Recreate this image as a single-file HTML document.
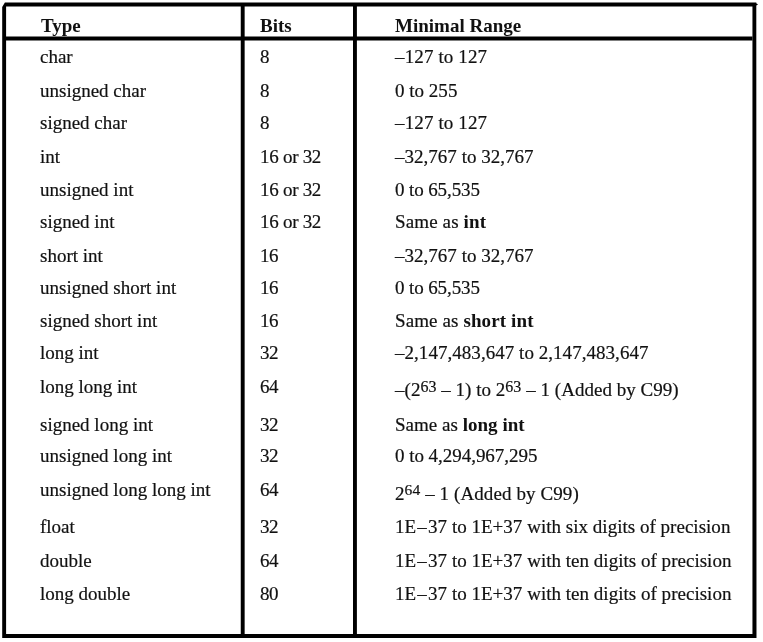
<!DOCTYPE html>
<html><head><meta charset="utf-8"><style>
html,body{margin:0;padding:0;background:#fff;}
body{width:763px;height:642px;position:relative;overflow:hidden;}
.t{position:absolute;will-change:transform;white-space:nowrap;font-family:"Liberation Serif","Times New Roman",serif;font-size:19px;line-height:22px;color:#111;-webkit-text-stroke:0.2px #111;}
.h{font-weight:bold;-webkit-text-stroke:0;}
b{font-weight:bold;-webkit-text-stroke:0;}
i.d{font-style:normal;margin:0 1.2px;}
sup{vertical-align:0;position:relative;line-height:0;}
.s1{font-size:16px;top:-4px;}
.s2{font-size:15.5px;top:-5px;}
svg{position:absolute;left:0;top:0;}
</style></head><body>
<svg width="763" height="642" viewBox="0 0 763 642"><path fill="#000" fill-rule="evenodd" d="M4.9 2.5 L756.3 2.5 L756.5 638 L2.2 638 L2.2 6.9 Z M6.1 6.4 L752.45 6.4 L752.45 634 L6.1 634 Z M756.3 3.3 L758 4.5 L756.3 5.6 Z"/><g stroke="#000" stroke-width="3.9" fill="none">
<line x1="6" y1="38.55" x2="752.5" y2="38.55" />
<line x1="242.7" y1="6" x2="242.7" y2="634.5" />
<line x1="354.95" y1="6" x2="354.95" y2="634.5" />
</g></svg>
<div class="t h" style="left:40.80px;top:15px">Type</div>
<div class="t h" style="left:259.90px;top:15px">Bits</div>
<div class="t h" style="left:395.40px;top:15px">Minimal Range</div>
<div class="t" style="left:40.40px;top:46px">char</div>
<div class="t" style="left:260.30px;top:46px">8</div>
<div class="t" style="left:395.40px;top:46px;letter-spacing:0.130px">–127 to 127</div>
<div class="t" style="left:40.40px;top:80px">unsigned char</div>
<div class="t" style="left:260.30px;top:80px">8</div>
<div class="t" style="left:395.40px;top:80px;letter-spacing:0.014px">0 to 255</div>
<div class="t" style="left:40.40px;top:112px">signed char</div>
<div class="t" style="left:260.30px;top:112px">8</div>
<div class="t" style="left:395.40px;top:112px;letter-spacing:0.130px">–127 to 127</div>
<div class="t" style="left:40.40px;top:146px">int</div>
<div class="t" style="left:260.30px;top:146px;letter-spacing:-0.280px">16 or 32</div>
<div class="t" style="left:395.40px;top:146px;letter-spacing:0.019px">–32,767 to 32,767</div>
<div class="t" style="left:40.40px;top:179px">unsigned int</div>
<div class="t" style="left:260.30px;top:179px;letter-spacing:-0.280px">16 or 32</div>
<div class="t" style="left:395.40px;top:179px;letter-spacing:-0.110px">0 to 65,535</div>
<div class="t" style="left:40.40px;top:211px">signed int</div>
<div class="t" style="left:260.30px;top:211px;letter-spacing:-0.280px">16 or 32</div>
<div class="t" style="left:395.40px;top:211px;letter-spacing:0.130px">Same as <b>int</b></div>
<div class="t" style="left:40.40px;top:245px">short int</div>
<div class="t" style="left:260.30px;top:245px;letter-spacing:-0.500px">16</div>
<div class="t" style="left:395.40px;top:245px;letter-spacing:0.019px">–32,767 to 32,767</div>
<div class="t" style="left:40.40px;top:277px">unsigned short int</div>
<div class="t" style="left:260.30px;top:277px;letter-spacing:-0.500px">16</div>
<div class="t" style="left:395.40px;top:277px;letter-spacing:-0.110px">0 to 65,535</div>
<div class="t" style="left:40.40px;top:310px">signed short int</div>
<div class="t" style="left:260.30px;top:310px;letter-spacing:-0.500px">16</div>
<div class="t" style="left:395.40px;top:310px;letter-spacing:0.112px">Same as <b>short int</b></div>
<div class="t" style="left:40.40px;top:342px">long int</div>
<div class="t" style="left:260.30px;top:342px;letter-spacing:-0.500px">32</div>
<div class="t" style="left:395.40px;top:342px;letter-spacing:0.040px">–2,147,483,647 to 2,147,483,647</div>
<div class="t" style="left:40.40px;top:376px">long long int</div>
<div class="t" style="left:260.30px;top:376px;letter-spacing:-0.500px">64</div>
<div class="t" style="left:395.40px;top:379px;letter-spacing:0.026px">–(2<sup class="s1">63</sup> – 1) to 2<sup class="s1">63</sup> – 1 (Added by C99)</div>
<div class="t" style="left:40.40px;top:414px">signed long int</div>
<div class="t" style="left:260.30px;top:414px;letter-spacing:-0.500px">32</div>
<div class="t" style="left:395.40px;top:414px;letter-spacing:0.020px">Same as <b>long int</b></div>
<div class="t" style="left:40.40px;top:445px">unsigned long int</div>
<div class="t" style="left:260.30px;top:445px;letter-spacing:-0.500px">32</div>
<div class="t" style="left:395.40px;top:445px;letter-spacing:-0.035px">0 to 4,294,967,295</div>
<div class="t" style="left:40.40px;top:479px">unsigned long long int</div>
<div class="t" style="left:260.30px;top:479px;letter-spacing:-0.500px">64</div>
<div class="t" style="left:395.40px;top:483px;letter-spacing:0.095px">2<sup class="s2">64</sup> – 1 (Added by C99)</div>
<div class="t" style="left:40.40px;top:516px">float</div>
<div class="t" style="left:260.30px;top:516px;letter-spacing:-0.500px">32</div>
<div class="t" style="left:394.80px;top:516px;letter-spacing:0.021px">1E<i class="d">–</i>37 to 1E+37 with six digits of precision</div>
<div class="t" style="left:40.40px;top:550px">double</div>
<div class="t" style="left:260.30px;top:550px;letter-spacing:-0.500px">64</div>
<div class="t" style="left:394.80px;top:550px;letter-spacing:0.021px">1E<i class="d">–</i>37 to 1E+37 with ten digits of precision</div>
<div class="t" style="left:40.40px;top:583px">long double</div>
<div class="t" style="left:260.30px;top:583px;letter-spacing:-0.500px">80</div>
<div class="t" style="left:394.80px;top:583px;letter-spacing:0.021px">1E<i class="d">–</i>37 to 1E+37 with ten digits of precision</div>
</body></html>
